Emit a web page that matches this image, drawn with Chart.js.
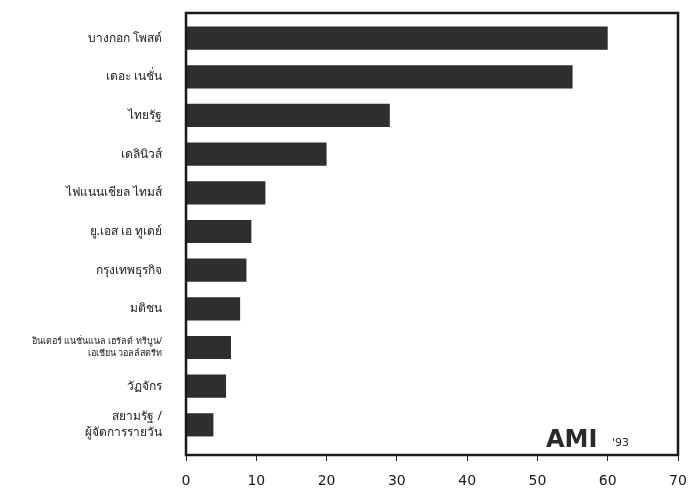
<!DOCTYPE html>
<html>
<head>
<meta charset="utf-8">
<script src="https://cdn.jsdelivr.net/npm/chart.js@4"></script>
<style>
  html, body { margin: 0; padding: 0; background: #fff; }
  #wrap { width: 690px; height: 496px; }
</style>
</head>
<body>
<div id="wrap"><canvas id="readers_chart"></canvas></div>
<script>
// newspapers, top to bottom
const papers = [
  "บางกอก โพสต์",
  "เดอะ เนชั่น",
  "ไทยรัฐ",
  "เดลินิวส์",
  "ไฟแนนเชียล ไทมส์",
  "ยู.เอส เอ ทูเดย์",
  "กรุงเทพธุรกิจ",
  "มติชน",
  ["อินเตอร์ แนชั่นแนล เฮรัลด์ ทริบูน/", "เอเชียน วอลล์สตรีท"],
  "วัฏจักร",
  ["สยามรัฐ /", "ผู้จัดการรายวัน"]
];
const readers = [60, 55, 29, 20, 11.3, 9.3, 8.6, 7.7, 6.4, 5.7, 3.9];
const xTicks = [0, 10, 20, 30, 40, 50, 60, 70];

// frame + AMI logo
const framePlugin = {
  id: "frame",
  afterDraw(chart) {
    const { ctx, chartArea: a } = chart;
    ctx.save();
    ctx.strokeStyle = "#1a1a1a";
    ctx.lineWidth = 2.5;
    ctx.strokeRect(a.left, a.top, a.right - a.left, a.bottom - a.top);
    ctx.fillStyle = "#2a2a2a";
    ctx.font = "bold 24px 'DejaVu Sans'";
    ctx.textBaseline = "alphabetic";
    ctx.fillText("AMI", 546, 447);
    ctx.font = "11px 'DejaVu Sans'";
    ctx.fillText("'93", 612, 446);
    ctx.restore();
  }
};

const ctx = document.getElementById("readers_chart").getContext("2d");
new Chart(ctx, {
  type: "bar",
  data: {
    datasets: [{
      data: readers.map((v, i) => ({ x: v, y: i })),
      backgroundColor: "#2e2e2e",
      borderWidth: 0,
      barPercentage: 0.6,
      categoryPercentage: 1
    }]
  },
  options: {
    indexAxis: "y",
    responsive: true,
    maintainAspectRatio: false,
    animation: false,
    layout: { padding: { top: 13, right: 12, left: 0, bottom: 0 } },
    plugins: { legend: { display: false }, tooltip: { enabled: false } },
    scales: {
      x: {
        type: "linear",
        min: 0,
        max: 70,
        afterBuildTicks: (s) => { s.ticks = xTicks.map((v) => ({ value: v })); },
        afterFit: (s) => { s.height = 41; s.paddingRight = 0; s.paddingLeft = 0; },
        grid: { display: true, drawOnChartArea: false, drawTicks: true, tickLength: 6, color: "#222" },
        border: { display: false },
        ticks: { color: "#1a1a1a", padding: 12, font: { family: "DejaVu Sans", size: 14 } }
      },
      y: {
        type: "linear",
        reverse: true,
        offset: false,
        min: -0.65,
        max: 10.78,
        afterBuildTicks: (s) => { s.ticks = papers.map((_, i) => ({ value: i })); },
        afterFit: (s) => { s.width = 186; s.paddingTop = 0; s.paddingBottom = 0; },
        grid: { display: false, offset: false },
        border: { display: false },
        ticks: {
          color: "#222",
          padding: 16,
          autoSkip: false,
          font: (c) => ({ family: "Noto Sans", size: c.index === 8 ? 9 : 12, lineHeight: 1.3 }),
          callback: (v) => papers[v]
        }
      }
    }
  },
  plugins: [framePlugin]
});
</script>
</body>
</html>
